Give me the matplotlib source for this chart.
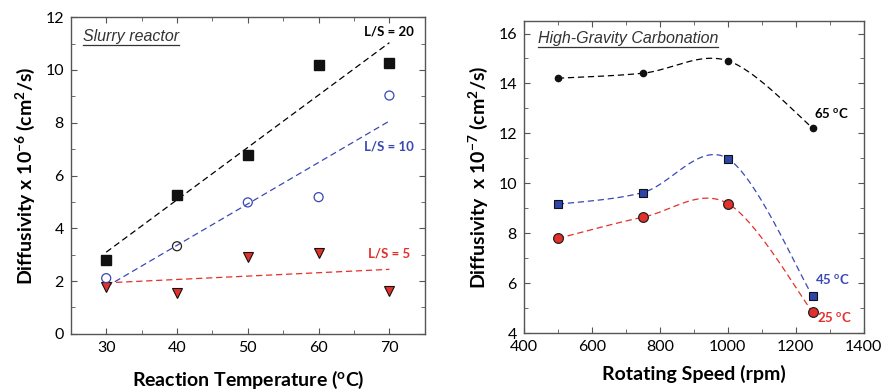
import numpy as np
import matplotlib
matplotlib.use("Agg")
import matplotlib.pyplot as plt
from matplotlib.ticker import MultipleLocator

# left panel: slurry reactor
temp = [30, 40, 50, 60, 70]
ls20 = [2.81, 5.28, 6.76, 10.19, 10.28]
ls10 = [2.11, 3.32, 4.98, 5.18, 9.03]
ls5 = [1.76, 1.54, 2.93, 3.08, 1.63]

# right panel: high-gravity carbonation
rpm = [500, 750, 1000, 1250]
t65 = [14.21, 14.41, 14.91, 12.21]
t45 = [9.16, 9.63, 10.99, 5.47]
t25 = [7.79, 8.64, 9.19, 4.83]

BLUE = '#3a48b4'
RED = '#e4302a'
SPINE = '#555555'

plt.rcParams['font.family'] = ['Lato', 'DejaVu Sans']
plt.rcParams['mathtext.fontset'] = 'custom'
plt.rcParams['mathtext.rm'] = 'Lato:bold'
plt.rcParams['mathtext.bf'] = 'Lato:bold'
plt.rcParams['mathtext.it'] = 'Lato:bold'
plt.rcParams['mathtext.default'] = 'rm'


def smooth(x, y, n=60):
    # Excel-style smoothed line: Catmull-Rom through the points, as Bezier
    p = np.column_stack([x, y]).astype(float)
    p_ext = np.vstack([p[0], p, p[-1]])
    out = []
    t = np.linspace(0, 1, n)[:, None]
    for i in range(len(p) - 1):
        p0, p3 = p[i], p[i + 1]
        c1 = p0 + (p_ext[i + 2] - p_ext[i]) / 6
        c2 = p3 - (p_ext[i + 3] - p_ext[i + 1]) / 6
        seg = ((1 - t) ** 3) * p0 + 3 * ((1 - t) ** 2) * t * c1 + 3 * (1 - t) * t ** 2 * c2 + t ** 3 * p3
        out.append(seg)
    out = np.vstack(out)
    return out[:, 0], out[:, 1]


def style_axes(ax):
    for s in ax.spines.values():
        s.set_color(SPINE)
        s.set_linewidth(1.0)
    ax.tick_params(which='both', direction='in', top=True, right=True, color=SPINE,
                   labelsize=11.5, pad=5)
    ax.tick_params(which='major', length=4)
    ax.tick_params(which='minor', length=3)


def underlined_title(fig, ax, x, y, txt):
    t = ax.text(x, y, txt, transform=ax.transAxes, fontsize=11.5, style='italic',
                family='Liberation Sans', color='#333333', va='baseline')
    fig.canvas.draw()
    bb = t.get_window_extent().transformed(ax.transAxes.inverted())
    ax.plot([bb.x0, bb.x1], [y - 0.012, y - 0.012], transform=ax.transAxes,
            color='#333333', lw=0.9, clip_on=False)


fig = plt.figure(figsize=(8.85, 3.9), dpi=100)
ax1 = fig.add_axes([0.080, 0.144, 0.400, 0.812])
ax2 = fig.add_axes([0.592, 0.146, 0.384, 0.800])

# ---- left panel
xs = np.array(temp, dtype=float)
for ys, col in [(ls20, 'black'), (ls10, BLUE), (ls5, RED)]:
    slope, intercept = np.polyfit(xs, ys, 1)
    ax1.plot(xs[[0, -1]], slope * xs[[0, -1]] + intercept, ls=(0, (5, 3)), color=col, lw=0.9)

ax1.plot(temp, ls20, 's', color='#111111', ms=6.5, mec='#111111', ls='none')
ax1.scatter(temp, ls10, s=42, facecolors='none',
            edgecolors=[BLUE, '#222222', BLUE, BLUE, BLUE], linewidths=0.9, zorder=3)
ax1.plot(temp, ls5, 'v', color=RED, ms=7, mec='#111111', mew=0.8, ls='none')

ax1.text(70, 11.3, 'L/S = 20', fontsize=9.5, fontweight='bold', ha='center', color='black')
ax1.text(70, 6.95, 'L/S = 10', fontsize=9.5, fontweight='bold', ha='center', color=BLUE)
ax1.text(70, 2.9, 'L/S = 5', fontsize=9.5, fontweight='bold', ha='center', color=RED)

ax1.set_xlim(25, 75)
ax1.set_ylim(0, 12)
ax1.xaxis.set_major_locator(MultipleLocator(10))
ax1.xaxis.set_minor_locator(MultipleLocator(5))
ax1.yaxis.set_major_locator(MultipleLocator(2))
ax1.yaxis.set_minor_locator(MultipleLocator(1))
ax1.set_xticks([30, 40, 50, 60, 70])
style_axes(ax1)
ax1.set_xlabel(r'Reaction Temperature ($^{o}$C)', fontsize=14, fontweight='bold', labelpad=10)
ax1.set_ylabel(r'Diffusivity x 10$^{-6}$ (cm$^{2}$/s)', fontsize=14,
               fontweight='bold', labelpad=6)

# ---- right panel
for ys, col in [(t65, 'black'), (t45, BLUE), (t25, RED)]:
    sx, sy = smooth(rpm, ys)
    ax2.plot(sx, sy, ls=(0, (5, 3)), color=col, lw=0.9)

ax2.plot(rpm, t65, 'o', color='#111111', ms=4.5, ls='none')
ax2.plot(rpm, t45, 's', color='#2f45a8', ms=6, mec='#111111', mew=0.8, ls='none')
ax2.plot(rpm, t25, 'o', color=RED, ms=7, mec='#222222', mew=0.9, ls='none')

ax2.text(1253, 12.6, r'65 $^{o}$C', fontsize=9.5, fontweight='bold', color='black')
ax2.text(1256, 5.95, r'45 $^{o}$C', fontsize=9.5, fontweight='bold', color=BLUE)
ax2.text(1262, 4.45, r'25 $^{o}$C', fontsize=9.5, fontweight='bold', color=RED)

ax2.set_xlim(400, 1400)
ax2.set_ylim(4, 16.5)
ax2.xaxis.set_major_locator(MultipleLocator(200))
ax2.xaxis.set_minor_locator(MultipleLocator(100))
ax2.yaxis.set_major_locator(MultipleLocator(2))
ax2.yaxis.set_minor_locator(MultipleLocator(1))
style_axes(ax2)
ax2.set_xlabel('Rotating Speed (rpm)', fontsize=14, fontweight='bold', labelpad=8)
ax2.set_ylabel(r'Diffusivity  x 10$^{-7}$ (cm$^{2}$/s)', fontsize=14,
               fontweight='bold', labelpad=6)

underlined_title(fig, ax1, 0.035, 0.925, 'Slurry reactor')
underlined_title(fig, ax2, 0.04, 0.93, 'High-Gravity Carbonation')

fig.savefig('out.png', dpi=100)
